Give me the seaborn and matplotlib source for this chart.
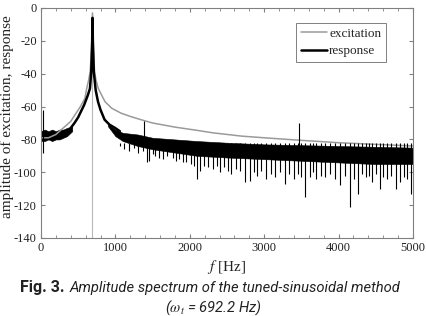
import numpy as np
import seaborn as sns
import matplotlib.pyplot as plt
from matplotlib.ticker import MultipleLocator

# values (Hz, dB)
exc_freq = [0, 100, 200, 300, 400, 457, 530, 590, 614, 640, 660, 680, 692.2,
            705, 720, 740, 770, 860, 950, 1075, 1200, 1344, 1500, 1800, 2100,
            2312, 2700, 3000, 3480, 4000, 4500, 5000]
exc_db = [-79, -79, -77, -73, -69, -65, -60, -55, -49, -44, -39, -25, -3,
          -25, -39, -44, -49, -57, -61, -64, -66, -68, -70, -72.5, -74.5,
          -76, -78, -79, -80.5, -82, -83, -84]
exc_f0 = 692.2
exc_peak = -3

resp_freq = [400, 450, 500, 537, 580, 630, 658, 675, 688, 692.2, 697, 710, 735,
             766, 800, 855, 920, 995, 1060]
resp_db = [-73, -70, -66.5, -63, -59, -53, -49, -39, -20, -6, -20, -39, -50,
           -57, -62, -68, -71, -73, -75]

# noise band of the response (upper / lower envelope)
band_l_freq = [0, 50, 100, 150, 200, 250, 300, 350, 420]
band_l_hi = [-75, -74, -75, -74, -75, -74, -74, -73, -72]
band_l_lo = [-81, -81, -80, -81, -80, -80, -79, -78, -75]

band_r_freq = [900, 1000, 1100, 1300, 1500, 1800, 2100, 2500, 3000, 3500, 4000, 4500, 5000]
band_r_hi = [-71, -74, -76, -77, -79, -80, -81, -82, -83, -83.5, -84, -84.5, -85]
band_r_lo = [-72, -78, -81, -84, -86, -88, -90, -91, -92, -93, -94, -95, -95]

# single spikes of the response: the three tall ones, then the downward ones
spike_freq = [27, 1390, 3470,
              1060, 1120, 1180, 1250, 1310, 1370, 1420, 1445, 1500, 1530, 1590, 1640,
              1700, 1775, 1820, 1860, 1910, 1950, 2010, 2050, 2093, 2137, 2190, 2250,
              2310, 2360, 2400, 2460, 2510, 2560, 2620, 2680, 2742, 2810, 2860, 2900,
              2960, 3024, 3090, 3150, 3210, 3280, 3340, 3400, 3448, 3500, 3548, 3614,
              3660, 3700, 3760, 3820, 3880, 3950, 4019, 4080, 4153, 4210, 4261, 4310,
              4368, 4410, 4450, 4500, 4556, 4600, 4650, 4710, 4772, 4830, 4880, 4920,
              4973]
spike_top = [-62, -69, -70] + [-82] * 73
spike_low = [-88, -80, -85,
             -84, -86, -87, -85, -88, -87, -94, -93, -89, -90, -91, -92,
             -90, -91, -93, -92, -94, -94, -95, -96, -104, -99, -96, -97,
             -98, -96, -100, -97, -99, -101, -98, -99, -106, -105, -100, -102,
             -99, -104, -101, -103, -100, -107, -101, -104, -101, -103, -115, -103,
             -100, -104, -102, -103, -101, -104, -108, -102, -121, -104, -113, -101,
             -103, -102, -106, -101, -110, -103, -104, -102, -110, -106, -103, -104,
             -113]

sns.set_style("ticks")
plt.rcParams['font.family'] = ['Liberation Serif', 'DejaVu Serif']
plt.rcParams['mathtext.fontset'] = 'stix'
plt.rcParams['axes.unicode_minus'] = False

fig = plt.figure(figsize=(4.26, 3.16), dpi=100)
ax = fig.add_axes([41 / 426, 1 - 238 / 316, 372 / 426, 230 / 316])

gray = '#9a9a9a'
ax.vlines(exc_f0, -140, exc_peak, color='#b8b8b8', lw=0.8)
sns.lineplot(x=exc_freq, y=exc_db, ax=ax, color=gray, lw=1.1,
             label='excitation', sort=False, estimator=None)

ax.fill_between(band_l_freq, band_l_lo, band_l_hi, color='black', lw=0.4)
ax.fill_between(band_r_freq, band_r_lo, band_r_hi, color='black', lw=0.4)
ax.vlines(spike_freq, spike_low, spike_top, color='black', lw=0.8)
sns.lineplot(x=resp_freq, y=resp_db, ax=ax, color='black', lw=1.8,
             label='response', sort=False, estimator=None)

ax.set_xlim(0, 5000)
ax.set_ylim(-140, 0)
ax.set_xticks(np.arange(0, 5001, 1000))
ax.set_yticks(np.arange(-140, 1, 20))
ax.xaxis.set_minor_locator(MultipleLocator(200))
ax.tick_params(which='both', direction='in', top=True, right=True,
               color='#808080', labelsize=9, labelcolor='#222222', pad=3)
ax.tick_params(which='major', length=3)
ax.tick_params(which='minor', length=2)
for s in ax.spines.values():
    s.set_color('#808080')
    s.set_linewidth(0.8)

ax.set_xlabel('$f$ [Hz]', fontsize=11, color='#222222', labelpad=3)
ax.set_ylabel('')
fig.text(7 / 426, 1 - 117 / 316, 'amplitude of excitation, response', rotation=90,
         ha='center', va='center', fontsize=11, color='#222222')

leg = ax.legend(loc='upper right', bbox_to_anchor=(0.927, 0.935), borderaxespad=0,
                fancybox=False, edgecolor='#808080', framealpha=1, fontsize=9.5,
                handlelength=2.0, handletextpad=0.15, borderpad=0.35, labelspacing=0.4)
leg.get_frame().set_linewidth(0.7)

cap = ['Roboto', 'DejaVu Sans']
fig.text(20 / 426, 1 - 292 / 316, 'Fig. 3.', family=cap, weight='bold',
         fontsize=11.5, color='#222222', va='baseline')
fig.text(70 / 426, 1 - 292 / 316, 'Amplitude spectrum of the tuned-sinusoidal method',
         family=cap, style='italic', fontsize=10.6, color='#222222', va='baseline')
fig.text(0.5, 1 - 312 / 316, r'($\omega_t$ = 692.2 Hz)', family=cap, style='italic',
         fontsize=10.6, color='#222222', ha='center', va='baseline')

fig.savefig('out.png', dpi=100)
